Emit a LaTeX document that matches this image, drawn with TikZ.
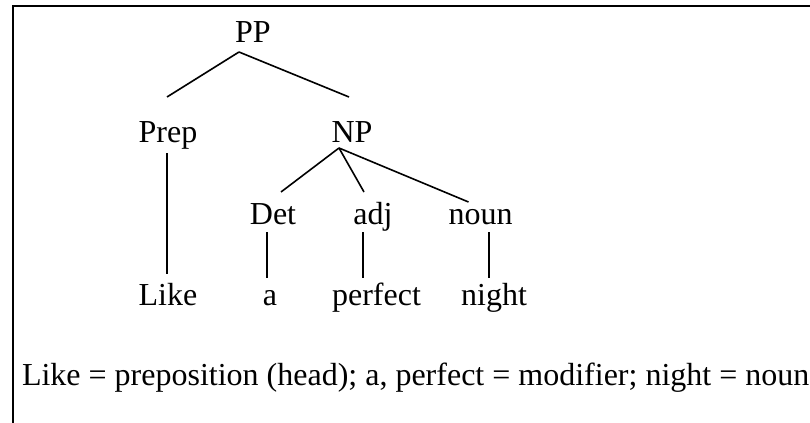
\documentclass[tikz,border=0pt]{standalone}
\usepackage{fontspec}
\setmainfont{Liberation Serif}
\usetikzlibrary{calc}

\tikzset{
    word/.style={anchor=base, inner sep=0pt, outer sep=0pt, font=\fontsize{16}{19}\selectfont},
    branch/.style={line width=0.8pt}
}

\begin{document}
\begin{tikzpicture}[x=0.5pt, y=-0.5pt]
    \useasboundingbox (0,0) rectangle (810,423);

    % Frame (left and top only)
    \draw[line width=1.2pt] (13,423) -- (13,6) -- (810,6);

    % Draw nodes
    \node[word] (PP)    at (253,42)    {PP};
    \node[word] (Prep)  at (168,142)   {Prep};
    \node[word] (NP)    at (352,142)   {NP};
    \node[word] (Det)   at (273,224)   {Det};
    \node[word] (adj)   at (373,224)   {adj};
    \node[word] (noun)  at (480.5,224) {noun};
    \node[word] (Like)  at (168,305)   {Like};
    \node[word] (a)     at (270,305)   {a};
    \node[word] (perfect) at (376.5,305) {perfect};
    \node[word] (night) at (494,305)   {night};

    % Draw connections
    \draw[branch] ($(PP.base)+(-14,10)$) -- ($(Prep.base)+(-1,-45)$);
    \draw[branch] ($(PP.base)+(-14,10)$) -- ($(NP.base)+(-3,-45)$);
    \draw[branch] ($(NP.base)+(-13,6)$) -- ($(Det.base)+(8,-32)$);
    \draw[branch] ($(NP.base)+(-13,6)$) -- ($(adj.base)+(-9,-32)$);
    \draw[branch] ($(NP.base)+(-13,6)$) -- ($(noun.base)+(-12,-22)$);
    \draw[branch] ($(Prep.base)+(-1,11)$) -- ($(Like.base)+(-1,-31)$);
    \draw[branch] ($(Det.base)+(-6,8)$) -- ($(a.base)+(-3,-27)$);
    \draw[branch] ($(adj.base)+(-10,8)$) -- ($(perfect.base)+(-13.5,-27)$);
    \draw[branch] ($(noun.base)+(8.5,8)$) -- ($(night.base)+(-5,-27)$);

    % Gloss
    \node[word, anchor=base west] (gloss) at (22,385)
        {Like = preposition (head); a, perfect = modifier; night = noun};
\end{tikzpicture}
\end{document}
